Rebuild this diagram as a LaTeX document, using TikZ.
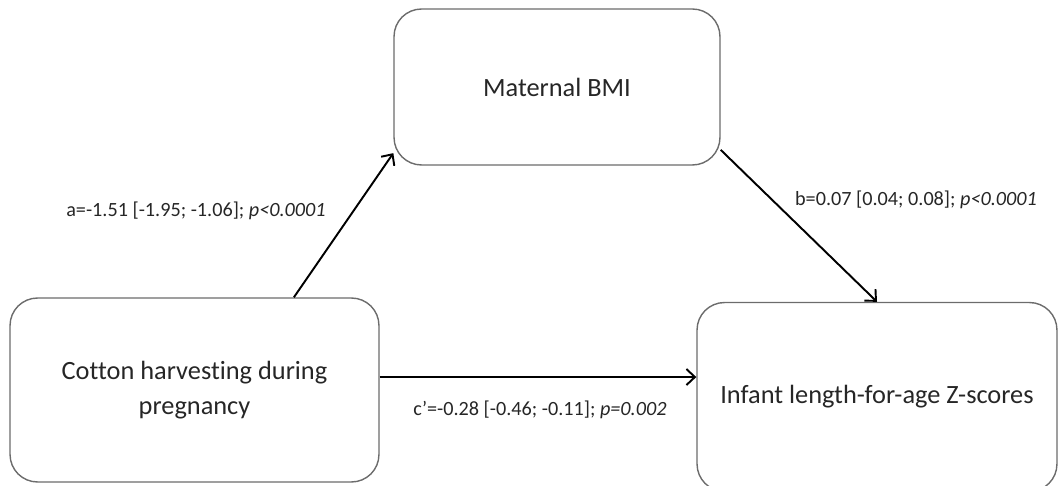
\documentclass[tikz,border=0pt]{standalone}
\usepackage{fontspec}
\setmainfont[Ligatures=NoCommon]{Carlito}
\usetikzlibrary{arrows.meta}

\begin{document}
\begin{tikzpicture}[
    x=0.02cm, y=-0.02cm,
    varbox/.style={rectangle, rounded corners=0.55cm, draw=gray!85!black, line width=0.8pt,
        text=black!85, align=center, font=\fontsize{15}{19.5}\selectfont},
    coef/.style={text=black!85, font=\fontsize{11.5}{14}\selectfont, inner sep=0pt},
    edge/.style={line width=1.1pt, -{Straight Barb[length=1.7mm, width=3.2mm]}}
]
    \useasboundingbox (0,0) rectangle (1059,486);

    \node[varbox, minimum width=6.52cm, minimum height=3.12cm] (bmi) at (557,87) {Maternal BMI};
    \node[varbox, minimum width=7.38cm, minimum height=3.68cm] (cotton) at (194.5,390) {Cotton harvesting during\\pregnancy};
    \node[varbox, minimum width=7.2cm, minimum height=3.78cm] (laz) at (877,397) {Infant length-for-age Z-scores};

    \draw[edge] (cotton.43) -- (bmi.202);
    \draw[edge] (bmi.-21) -- (laz.north);
    \draw[edge] (cotton.4) -- (cotton.4 -| laz.west);

    \node[coef] (pa) at (196,211) {a=-1.51 [-1.95; -1.06]; \textit{p<0.0001}};
    \node[coef] (pb) at (916,200) {b=0.07 [0.04; 0.08]; \textit{p<0.0001}};
    \node[coef] (pc) at (540,410) {c\textquoteright=-0.28 [-0.46; -0.11]; \textit{p=0.002}};
\end{tikzpicture}
\end{document}
